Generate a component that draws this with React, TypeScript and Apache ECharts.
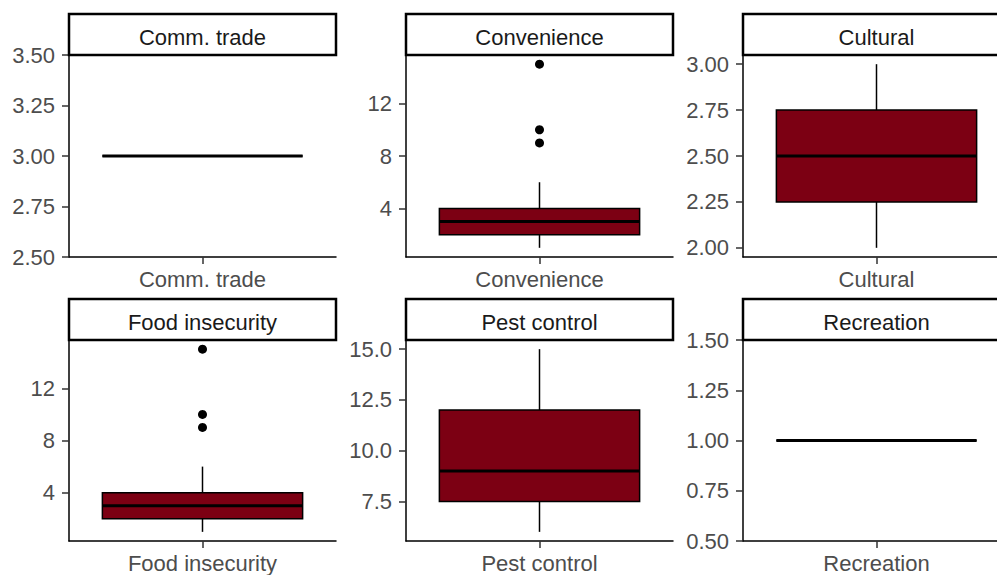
import React, { useEffect, useRef } from "react";
import * as echarts from "echarts";

// Facets of the boxplot grid, in reading order (3 columns x 2 rows)
const facets = ["Comm. trade", "Convenience", "Cultural", "Food insecurity", "Pest control", "Recreation"];

// Five-number summaries per facet
const whiskerLow = [3, 1, 2, 1, 6, 1];
const quartile1 = [3, 2, 2.25, 2, 7.5, 1];
const medians = [3, 3, 2.5, 3, 9, 1];
const quartile3 = [3, 4, 2.75, 4, 12, 1];
const whiskerHigh = [3, 6, 3, 6, 15, 1];

// Points beyond the whiskers
const outliers: number[][] = [[], [9, 10, 15], [], [9, 10, 15], [], []];

// Free y scales per facet
const yMin = [2.5, 0.3, 1.95, 0.3, 5.55, 0.5];
const yMax = [3.5, 15.7, 3.05, 15.7, 15.45, 1.5];
const yTicks: number[][] = [
  [2.5, 2.75, 3, 3.25, 3.5],
  [4, 8, 12],
  [2, 2.25, 2.5, 2.75, 3],
  [4, 8, 12],
  [7.5, 10, 12.5, 15],
  [0.5, 0.75, 1, 1.25, 1.5],
];
const yDecimals = [2, 0, 2, 0, 1, 2];

const FONT = "'Liberation Sans', Arial, sans-serif";
const FILL = "#7C0013";
const BOX_WIDTH = 0.9; // in category units
const X_POS = 1; // the single category sits at x = 1 on a 0.4..1.6 scale

export default function App() {
  const ref = useRef<HTMLDivElement>(null);

  useEffect(() => {
    if (!ref.current) return;
    const chart = echarts.init(ref.current, undefined, { renderer: "svg" });

    const W = 997;
    const colLeft = [69, 406, 743];
    const rowTop = [55, 340];
    const rowHeight = [202, 201];
    const panelW = 267;
    const stripH = 41;
    const xSpan = 1.2; // 0.4 .. 1.6

    const grids: any[] = [];
    const xAxes: any[] = [];
    const yAxes: any[] = [];
    const series: any[] = [];
    const graphics: any[] = [];

    facets.forEach((name, i) => {
      const c = i % 3;
      const r = Math.floor(i / 3);
      const left = colLeft[c];
      const top = rowTop[r];
      // the right-hand column runs past the page edge; trim the grid and its x range together
      const visibleW = Math.min(panelW, W - left);
      const xMax = 0.4 + (xSpan * visibleW) / panelW;
      grids.push({ left, top, width: visibleW, height: rowHeight[r], containLabel: false });

      xAxes.push({
        type: "value",
        gridIndex: i,
        min: 0.4,
        max: xMax,
        axisLine: { show: true, onZero: false, lineStyle: { color: "#000", width: 1.5 } },
        axisTick: { show: true, length: 7, customValues: [X_POS], lineStyle: { color: "#333", width: 1.5 } },
        axisLabel: {
          color: "#4D4D4D",
          fontSize: 22,
          fontFamily: FONT,
          margin: 11,
          customValues: [X_POS],
          formatter: () => name,
        },
        splitLine: { show: false },
      });

      const dec = yDecimals[i];
      yAxes.push({
        type: "value",
        gridIndex: i,
        min: yMin[i],
        max: yMax[i],
        axisLine: { show: true, onZero: false, lineStyle: { color: "#000", width: 1.5 } },
        axisTick: { show: true, length: 7, customValues: yTicks[i], lineStyle: { color: "#333", width: 1.5 } },
        axisLabel: {
          color: "#4D4D4D",
          fontSize: 22,
          fontFamily: FONT,
          margin: 14,
          customValues: yTicks[i],
          formatter: (v: number) => v.toFixed(dec),
        },
        splitLine: { show: false },
      });

      series.push({
        type: "custom",
        xAxisIndex: i,
        yAxisIndex: i,
        encode: { x: 0, y: [1, 2, 3, 4, 5] },
        data: [[X_POS, whiskerLow[i], quartile1[i], medians[i], quartile3[i], whiskerHigh[i]]],
        clip: false,
        renderItem: (_params: any, api: any) => {
          const xv = api.value(0);
          const lo = api.coord([xv, api.value(1)]);
          const q1 = api.coord([xv, api.value(2)]);
          const md = api.coord([xv, api.value(3)]);
          const q3 = api.coord([xv, api.value(4)]);
          const hi = api.coord([xv, api.value(5)]);
          const half = api.size([BOX_WIDTH, 0])[0] / 2;
          const cx = md[0];
          return {
            type: "group",
            children: [
              { type: "line", shape: { x1: cx, y1: hi[1], x2: cx, y2: q3[1] }, style: { stroke: "#000", lineWidth: 1.5 } },
              { type: "line", shape: { x1: cx, y1: q1[1], x2: cx, y2: lo[1] }, style: { stroke: "#000", lineWidth: 1.5 } },
              {
                type: "rect",
                shape: { x: cx - half, y: q3[1], width: half * 2, height: q1[1] - q3[1] },
                style: { fill: FILL, stroke: "#000", lineWidth: 1.5 },
              },
              { type: "line", shape: { x1: cx - half, y1: md[1], x2: cx + half, y2: md[1] }, style: { stroke: "#000", lineWidth: 3 } },
            ],
          };
        },
        z: 2,
      });

      if (outliers[i].length) {
        series.push({
          type: "scatter",
          xAxisIndex: i,
          yAxisIndex: i,
          data: outliers[i].map((v) => [X_POS, v]),
          symbol: "circle",
          symbolSize: 9,
          itemStyle: { color: "#000", opacity: 1 },
          z: 3,
        });
      }

      // Facet strip
      graphics.push({
        type: "rect",
        shape: { x: left, y: top - stripH, width: panelW, height: stripH },
        style: { fill: "#fff", stroke: "#000", lineWidth: 2.5 },
        z: 10,
      });
      graphics.push({
        type: "text",
        x: left + panelW / 2,
        y: top - stripH / 2 + 3,
        style: {
          text: name,
          fill: "#1A1A1A",
          fontSize: 22,
          fontFamily: FONT,
          align: "center",
          verticalAlign: "middle",
        },
        z: 11,
      });
    });

    chart.setOption({
      animation: false,
      backgroundColor: "#fff",
      grid: grids,
      xAxis: xAxes,
      yAxis: yAxes,
      series,
      graphic: graphics,
    });

    return () => chart.dispose();
  }, []);

  return (
    <div
      ref={ref}
      style={{ position: "fixed", left: 0, top: 0, width: 997, height: 575, background: "#fff" }}
    />
  );
}
